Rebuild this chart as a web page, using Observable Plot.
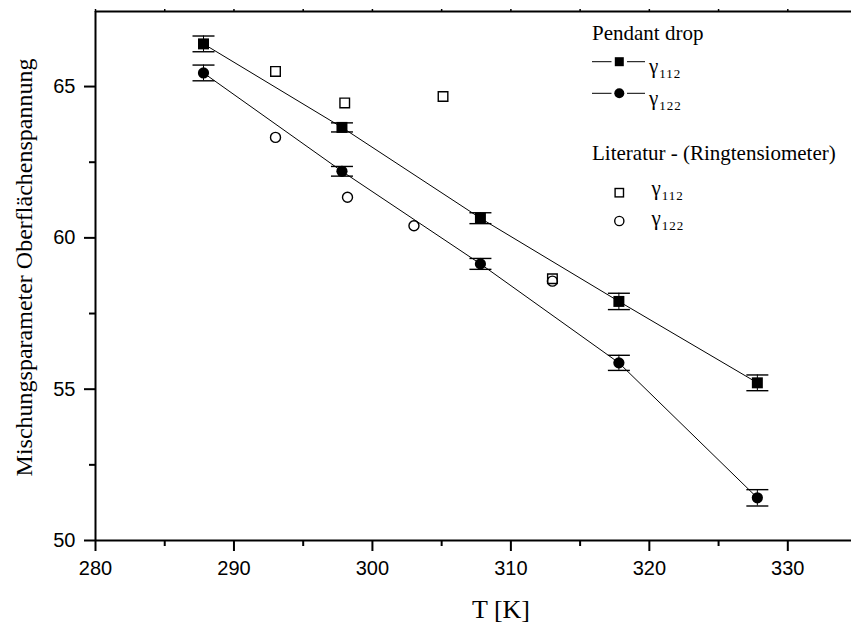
<!DOCTYPE html>
<html><head><meta charset="utf-8">
<script src="https://cdn.jsdelivr.net/npm/d3@7"></script>
<script src="https://cdn.jsdelivr.net/npm/@observablehq/plot@0.6"></script>
<style>body{margin:0;background:#fff;overflow:hidden}</style>
</head><body><div id="chart"></div>
<script>
// Pendant drop measurements
const tPendant = [287.8, 297.8, 307.8, 317.8, 327.8];
const g112Pendant = [66.41, 63.65, 60.65, 57.90, 55.21];
const g112Err = [0.26, 0.15, 0.18, 0.27, 0.26];
const g122Pendant = [65.45, 62.20, 59.14, 55.87, 51.41];
const g122Err = [0.26, 0.16, 0.18, 0.25, 0.27];
// Literature (ring tensiometer)
const tLit112 = [293.0, 298.0, 305.1, 313.0];
const g112Lit = [65.50, 64.46, 64.67, 58.65];
const tLit122 = [293.0, 298.2, 303.0, 313.0];
const g122Lit = [63.32, 61.34, 60.40, 58.57];
// Axes
const xTicks = [280, 290, 300, 310, 320, 330];
const xMinor = [285, 295, 305, 315, 325];
const yTicks = [50, 55, 60, 65];
const yMinor = [52.5, 57.5, 62.5];
const xDomain = [280, 334.6];
const yDomain = [50, 67.48];

const xTitle = "T [K]";
const yTitle = "Mischungsparameter Oberflächenspannung";
const legendTitle1 = "Pendant drop";
const legendTitle2 = "Literatur - (Ringtensiometer)";
const legendSub = ["112", "122"];

const p112 = tPendant.map((t, i) => ({t, g: g112Pendant[i], lo: g112Pendant[i] - g112Err[i], hi: g112Pendant[i] + g112Err[i]}));
const p122 = tPendant.map((t, i) => ({t, g: g122Pendant[i], lo: g122Pendant[i] - g122Err[i], hi: g122Pendant[i] + g122Err[i]}));
const l112 = tLit112.map((t, i) => ({t, g: g112Lit[i]}));
const l122 = tLit122.map((t, i) => ({t, g: g122Lit[i]}));

const capSymbol = {draw(ctx) { ctx.moveTo(-11, 0); ctx.lineTo(11, 0); }};

function errMarks(data) {
  return [
    Plot.ruleX(data, {x: "t", y1: "lo", y2: "hi", stroke: "black", strokeWidth: 1}),
    Plot.dot(data, {x: "t", y: "lo", symbol: capSymbol, stroke: "black", strokeWidth: 1.4, fill: "none"}),
    Plot.dot(data, {x: "t", y: "hi", symbol: capSymbol, stroke: "black", strokeWidth: 1.4, fill: "none"})
  ];
}

const plot = Plot.plot({
  width: 851, height: 629,
  marginLeft: 95, marginRight: 0, marginTop: 11, marginBottom: 89,
  x: {domain: xDomain},
  y: {domain: yDomain},
  style: {fontFamily: "'Liberation Sans', Arial, sans-serif", fontSize: "20px", color: "black", background: "white"},
  marks: [
    Plot.axisX({ticks: xTicks, tickSize: 11, tickPadding: 9, strokeWidth: 2, label: null, fontSize: 20}),
    Plot.axisX({ticks: xMinor, tickSize: 6, tickFormat: () => "", strokeWidth: 2, label: null}),
    Plot.axisX({anchor: "top", ticks: [...xTicks, ...xMinor], tickSize: 3, tickFormat: () => "", strokeWidth: 1.5, label: null}),
    Plot.axisY({ticks: yTicks, tickSize: 11, tickPadding: 9, strokeWidth: 2, label: null, fontSize: 20}),
    Plot.axisY({ticks: yMinor, tickSize: 6, tickFormat: () => "", strokeWidth: 2, label: null}),
    Plot.ruleX([xDomain[0]], {strokeWidth: 2}),
    Plot.ruleY([yDomain[0]], {strokeWidth: 2}),
    Plot.ruleY([yDomain[1]], {strokeWidth: 2}),
    Plot.line(p112, {x: "t", y: "g", stroke: "black", strokeWidth: 1}),
    Plot.line(p122, {x: "t", y: "g", stroke: "black", strokeWidth: 1}),
    ...errMarks(p112),
    ...errMarks(p122),
    Plot.dot(p112, {x: "t", y: "g", symbol: "square", r: 6.2, fill: "black", stroke: "none"}),
    Plot.dot(p122, {x: "t", y: "g", symbol: "circle", r: 5.6, fill: "black", stroke: "none"}),
    Plot.dot(l112, {x: "t", y: "g", symbol: "square", r: 5.4, fill: "none", stroke: "black", strokeWidth: 1.4}),
    Plot.dot(l122, {x: "t", y: "g", symbol: "circle", r: 5.0, fill: "none", stroke: "black", strokeWidth: 1.4})
  ]
});
document.getElementById("chart").appendChild(plot);

const svg = d3.select(plot);
const serif = "'Liberation Serif', 'Times New Roman', serif";
const serifStyle = `font-family: ${serif};`;

// Axis titles
svg.append("text").attr("x", 501).attr("y", 618).attr("text-anchor", "middle")
  .attr("style", serifStyle).attr("font-size", 26).attr("fill", "black").text(xTitle);
svg.append("text").attr("transform", "translate(31.5,267.5) rotate(-90)").attr("text-anchor", "middle")
  .attr("style", serifStyle).attr("font-size", 24).attr("fill", "black").text(yTitle);

// Legend
const lg = svg.append("g").attr("style", serifStyle).attr("fill", "black").attr("text-anchor", "start");
lg.append("text").attr("x", 592).attr("y", 39.5).attr("font-size", 21).attr("style", serifStyle).text(legendTitle1);
lg.append("text").attr("x", 592).attr("y", 160).attr("font-size", 21).attr("style", serifStyle).text(legendTitle2);

function gammaLabel(x, y, sub) {
  const t = lg.append("text").attr("x", x).attr("y", y).attr("font-size", 21).attr("style", serifStyle);
  t.append("tspan").text("γ");
  t.append("tspan").attr("dy", 5).attr("dx", 1).attr("font-size", 13).attr("letter-spacing", 1).text(sub);
}
const r1 = 61.7, r2 = 93.3, r3 = 192.7, r4 = 221;
[[r1, "square"], [r2, "circle"]].forEach(([y, s]) => {
  lg.append("line").attr("x1", 592).attr("x2", 611.5).attr("y1", y).attr("y2", y).attr("stroke", "black").attr("stroke-width", 1);
  lg.append("line").attr("x1", 627).attr("x2", 645).attr("y1", y).attr("y2", y).attr("stroke", "black").attr("stroke-width", 1);
  if (s === "square") lg.append("rect").attr("x", 619.3 - 4.5).attr("y", y - 4.5).attr("width", 9).attr("height", 9).attr("fill", "black");
  else lg.append("circle").attr("cx", 619.3).attr("cy", y).attr("r", 5).attr("fill", "black");
});
gammaLabel(649, 73.4, legendSub[0]);
gammaLabel(649, 105.4, legendSub[1]);
lg.append("rect").attr("x", 619.3 - 4.2).attr("y", r3 - 4.2).attr("width", 8.4).attr("height", 8.4).attr("fill", "none").attr("stroke", "black").attr("stroke-width", 1.4);
lg.append("circle").attr("cx", 619.3).attr("cy", r4).attr("r", 4.6).attr("fill", "none").attr("stroke", "black").attr("stroke-width", 1.4);
gammaLabel(651.5, 195.4, legendSub[0]);
gammaLabel(651.5, 225.4, legendSub[1]);
</script>
</body></html>
